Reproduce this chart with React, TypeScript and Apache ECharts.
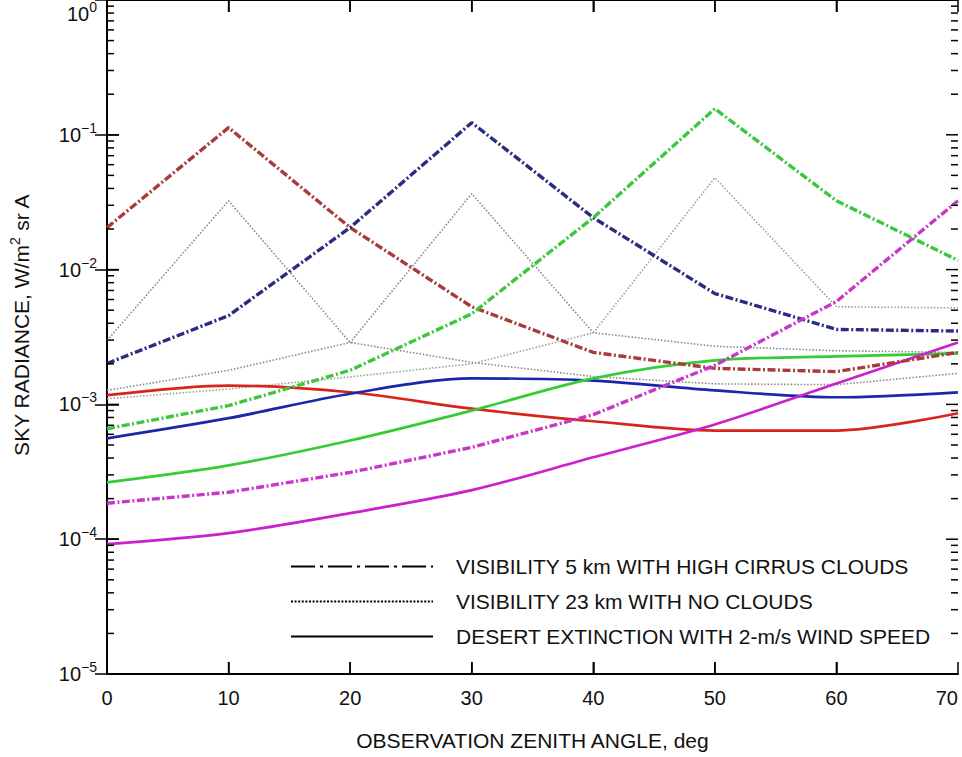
import React, { useEffect, useRef } from 'react';
import * as echarts from 'echarts';

const FONT = '"Liberation Sans", Arial, Helvetica, sans-serif';

const angles = [0, 10, 20, 30, 40, 50, 60, 70];

// Visibility 5 km with high cirrus clouds (dash-dot)
const cirrusRed = [0.0205, 0.113, 0.0205, 0.0053, 0.00243, 0.00185, 0.00175, 0.00243];
const cirrusBlue = [0.00201, 0.00456, 0.0205, 0.123, 0.0243, 0.00664, 0.0036, 0.0035];
const cirrusGreen = [0.00066, 0.00098, 0.00179, 0.0047, 0.0243, 0.156, 0.0324, 0.0117];
const cirrusMagenta = [0.000185, 0.000223, 0.000313, 0.00048, 0.00084, 0.00195, 0.0058, 0.0324];

// Visibility 23 km with no clouds (dotted)
const clearPeak10 = [0.00298, 0.0324, 0.00288, 0.00205, 0.00161, 0.00142, 0.0014, 0.0017];
const clearPeak30 = [0.00127, 0.00179, 0.00288, 0.0366, 0.0034, 0.0027, 0.0025, 0.00243];
const clearPeak50 = [0.0011, 0.0013, 0.0016, 0.002, 0.0034, 0.048, 0.0053, 0.0052];

// Desert extinction with 2-m/s wind speed (solid)
const desertRed = [0.00117, 0.00138, 0.00123, 0.00093, 0.00075, 0.00064, 0.00064, 0.00086];
const desertBlue = [0.00056, 0.00079, 0.0012, 0.00156, 0.0015, 0.00127, 0.00113, 0.00123];
const desertGreen = [0.000264, 0.000353, 0.00054, 0.0009, 0.00156, 0.00212, 0.00227, 0.00239];
const desertMagenta = [0.0000919, 0.000111, 0.000156, 0.000231, 0.000405, 0.00071, 0.00143, 0.00288];

const legendNames = [
  'VISIBILITY 5 km WITH HIGH CIRRUS CLOUDS',
  'VISIBILITY 23 km WITH NO CLOUDS',
  'DESERT EXTINCTION WITH 2-m/s WIND SPEED',
];

const xTitle = 'OBSERVATION ZENITH ANGLE, deg';
const yTitle = 'SKY RADIANCE, W/m{sup|2} sr A';

// Axis ranges and tick layout
const xMin = 0;
const xMax = 70;
const yMin = 1e-5;
const yMax = 1;
const xTickValues = [10, 20, 30, 40, 50, 60];
const decadeExponents = [-5, -4, -3, -2, -1, 0];
const minorMultipliers = [2, 3, 4, 5, 6, 7, 8, 9];

const toPairs = (vals: number[]) => angles.map((a, i) => [a, vals[i]]);

const DASHDOT = [8, 2.5, 2, 2.5];
const DOTTED = [1.5, 1.8];

function expLabel(v: number) {
  const e = Math.round(Math.log10(v));
  const s = e < 0 ? '\u2212' + String(-e) : String(e);
  return `{b|10}{s|${s}}`;
}

const labelRich = {
  b: { fontSize: 20, color: '#111', fontFamily: FONT },
  s: { fontSize: 14, color: '#111', fontFamily: FONT, padding: [0, 0, 14, 0] },
};

export default function App() {
  const ref = useRef<HTMLDivElement>(null);
  useEffect(() => {
    const chart = echarts.init(ref.current!, null, { renderer: 'svg' });
    const axisLine = { show: true, lineStyle: { color: '#000', width: 2 } };
    const tick = { show: true, inside: true, length: 12, lineStyle: { color: '#000', width: 1.5 } };

    const majorY = decadeExponents.map((e) => Math.pow(10, e));
    const minorY: number[] = [];
    decadeExponents.slice(0, -1).forEach((e) => {
      minorMultipliers.forEach((m) => minorY.push(m * Math.pow(10, e)));
    });

    const lineSeries = (name: string, vals: number[], color: string, type: any, width: number, smooth: any) => ({
      type: 'line',
      name,
      data: toPairs(vals),
      symbol: 'none',
      smooth,
      lineStyle: { color, width, type },
      itemStyle: { color },
    });

    const series: any[] = [
      lineSeries('c10', clearPeak10, '#8f8585', DOTTED, 1.6, false),
      lineSeries('c30', clearPeak30, '#85859a', DOTTED, 1.6, false),
      lineSeries('c50', clearPeak50, '#92a592', DOTTED, 1.6, false),
      lineSeries('d10', desertRed, '#d8241a', 'solid', 2.7, 0.3),
      lineSeries('d30', desertBlue, '#1a28a8', 'solid', 2.7, 0.3),
      lineSeries('d50', desertGreen, '#35cc35', 'solid', 2.7, 0.3),
      lineSeries('d70', desertMagenta, '#cc20cc', 'solid', 2.7, 0.3),
      lineSeries('h10', cirrusRed, '#a83c3a', DASHDOT, 3.4, false),
      lineSeries('h30', cirrusBlue, '#2a2c82', DASHDOT, 3.4, false),
      lineSeries('h50', cirrusGreen, '#3ec63e', DASHDOT, 3.4, false),
      lineSeries('h70', cirrusMagenta, '#c838c8', DASHDOT, 3.4, false),
      {
        type: 'line', name: legendNames[0], data: [], symbol: 'none',
        lineStyle: { color: '#000', width: 3, type: [24, 5, 3, 5] }, itemStyle: { color: 'transparent', borderWidth: 0 },
      },
      {
        type: 'line', name: legendNames[1], data: [], symbol: 'none',
        lineStyle: { color: '#000', width: 2.5, type: [2, 1.6] }, itemStyle: { color: 'transparent', borderWidth: 0 },
      },
      {
        type: 'line', name: legendNames[2], data: [], symbol: 'none',
        lineStyle: { color: '#000', width: 3, type: 'solid' }, itemStyle: { color: 'transparent', borderWidth: 0 },
      },
    ];

    const option: any = {
      animation: false,
      backgroundColor: '#fff',
      textStyle: { fontFamily: FONT },
      grid: { left: 107, right: 4, top: 0, bottom: 83, containLabel: false, outerBoundsMode: 'none' },
      legend: {
        data: legendNames,
        orient: 'vertical',
        left: 285,
        top: 551,
        itemWidth: 142,
        itemHeight: 16,
        itemGap: 14,
        selectedMode: false,
        textStyle: { fontSize: 21, color: '#111', fontFamily: FONT, padding: [0, 0, 0, 18] },
      },
      xAxis: [
        {
          type: 'value', min: xMin, max: xMax, interval: 10, position: 'bottom',
          axisLine, axisTick: tick, splitLine: { show: false },
          axisLabel: { fontSize: 20, color: '#111', margin: 14, fontFamily: FONT, alignMaxLabel: 'right' },
          name: xTitle, nameLocation: 'middle', nameGap: 56,
          nameTextStyle: { fontSize: 21, color: '#111', fontFamily: FONT },
        },
        {
          type: 'value', min: xMin, max: xMax, interval: 10, position: 'top',
          axisLine, axisTick: tick, splitLine: { show: false }, axisLabel: { show: false },
        },
      ],
      yAxis: [
        {
          type: 'log', logBase: 10, min: yMin, max: yMax, position: 'left',
          axisLine, axisTick: tick, minorTick: { show: false },
          splitLine: { show: false }, minorSplitLine: { show: false },
          axisLabel: { formatter: expLabel, rich: labelRich, margin: 10, showMaxLabel: false },
          name: yTitle, nameLocation: 'middle', nameGap: 73, nameRotate: 90,
          nameTextStyle: {
            fontSize: 21, color: '#111', fontFamily: FONT, padding: [0, 0, 0, 24],
            rich: { sup: { fontSize: 14, color: '#111', fontFamily: FONT, padding: [0, 0, 12, 0] } },
          },
        },
        {
          type: 'log', logBase: 10, min: yMin, max: yMax, position: 'right',
          axisLine, axisTick: tick, minorTick: { show: false },
          splitLine: { show: false }, minorSplitLine: { show: false }, axisLabel: { show: false },
        },
        {
          type: 'log', logBase: 10, min: yMin, max: yMax, position: 'left',
          axisLine: { show: false }, axisTick: { show: false },
          splitLine: { show: false },
          axisLabel: {
            formatter: (v: number) => (Math.abs(v - 1) < 1e-9 ? expLabel(v) : ''),
            rich: labelRich, margin: 10, verticalAlign: 'top', showMaxLabel: true,
          },
        },
      ],
      series,
    };
    chart.setOption(option);

    // Frame ticks placed through the chart's own scales (convertToPixel)
    const toPx = (x: number, y: number) => chart.convertToPixel({ seriesIndex: 0 }, [x, y]) as number[];
    const st = { stroke: '#000', lineWidth: 1.5 };
    const graphics: any[] = [];
    const hTick = (xv: number, yv: number, len: number) => {
      const p = toPx(xv, yv);
      if (!p || !isFinite(p[0]) || !isFinite(p[1])) return;
      graphics.push({ type: 'line', z: 100, silent: true, shape: { x1: p[0], y1: p[1], x2: p[0] + len, y2: p[1] }, style: st });
    };
    const vTick = (xv: number, yv: number, len: number) => {
      const p = toPx(xv, yv);
      if (!p || !isFinite(p[0]) || !isFinite(p[1])) return;
      graphics.push({ type: 'line', z: 100, silent: true, shape: { x1: p[0], y1: p[1], x2: p[0], y2: p[1] + len }, style: st });
    };
    minorY.forEach((v) => { hTick(xMin, v, 7); hTick(xMax, v, -7); });
    majorY.forEach((v) => { hTick(xMin, v, 12); hTick(xMax, v, -12); });
    xTickValues.forEach((x) => { vTick(x, yMin, -12); vTick(x, yMax, 12); });
    chart.setOption({ graphic: graphics });

    return () => chart.dispose();
  }, []);
  return <div ref={ref} style={{ position: 'fixed', left: 0, top: 0, width: 962, height: 757 }} />;
}
